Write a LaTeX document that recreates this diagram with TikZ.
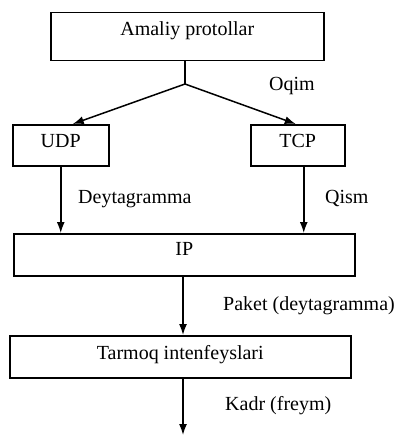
\documentclass[tikz,border=0pt]{standalone}
\usepackage{fontspec}
\setmainfont{Liberation Serif}
\usetikzlibrary{arrows.meta}
\begin{document}
\begin{tikzpicture}[x=1pt,y=-1pt,
  every node/.style={font=\rmfamily\fontsize{20}{24}\selectfont},
  box/.style={draw, line width=1.5pt, inner sep=0pt, anchor=north west},
  lbl/.style={anchor=base west, inner sep=0pt},
  conn/.style={line width=1.5pt},
  arr/.style={conn, -{Latex[length=11pt,width=8pt]}}]
\useasboundingbox (0,0) rectangle (404,436);
\node[box, minimum width=273pt, minimum height=48pt, text height=23pt, text depth=25pt] (app) at (50,12) {Amaliy protollar};
\node[box, minimum width=96pt, minimum height=41pt, text height=23pt, text depth=18pt] (udp) at (12,124) {UDP};
\node[box, minimum width=94pt, minimum height=41pt, text height=23pt, text depth=18pt] (tcp) at (250,124) {TCP};
\node[box, minimum width=341pt, minimum height=42pt, text height=22pt, text depth=20pt] (ip) at (13,233) {IP};
\node[box, minimum width=341pt, minimum height=42pt, text height=24pt, text depth=18pt] (net) at (9,335) {Tarmoq intenfeyslari};
\coordinate (j) at (185,84);
\coordinate (end) at (183,435);
\draw[conn] (app.south -| j) -- (j);
\draw[arr] (j) -- ([xshift=12pt]udp.north);
\draw[arr] (j) -- ([xshift=-2pt]tcp.north);
\draw[arr] (udp.south) -- (udp.south |- ip.north);
\draw[arr] ([xshift=6pt]tcp.south) -- ([xshift=6pt]tcp.south |- ip.north);
\draw[arr] (ip.south -| end) -- (net.north -| end);
\draw[arr] (net.south -| end) -- (end);
\node[lbl] (oqim) at (269,90) {Oqim};
\node[lbl] (deyt) at (78,203) {Deytagramma};
\node[lbl] (qism) at (325,203) {Qism};
\node[lbl] (paket) at (223,310) {Paket (deytagramma)};
\node[lbl] (kadr) at (225,410) {Kadr (freym)};
\end{tikzpicture}
\end{document}
